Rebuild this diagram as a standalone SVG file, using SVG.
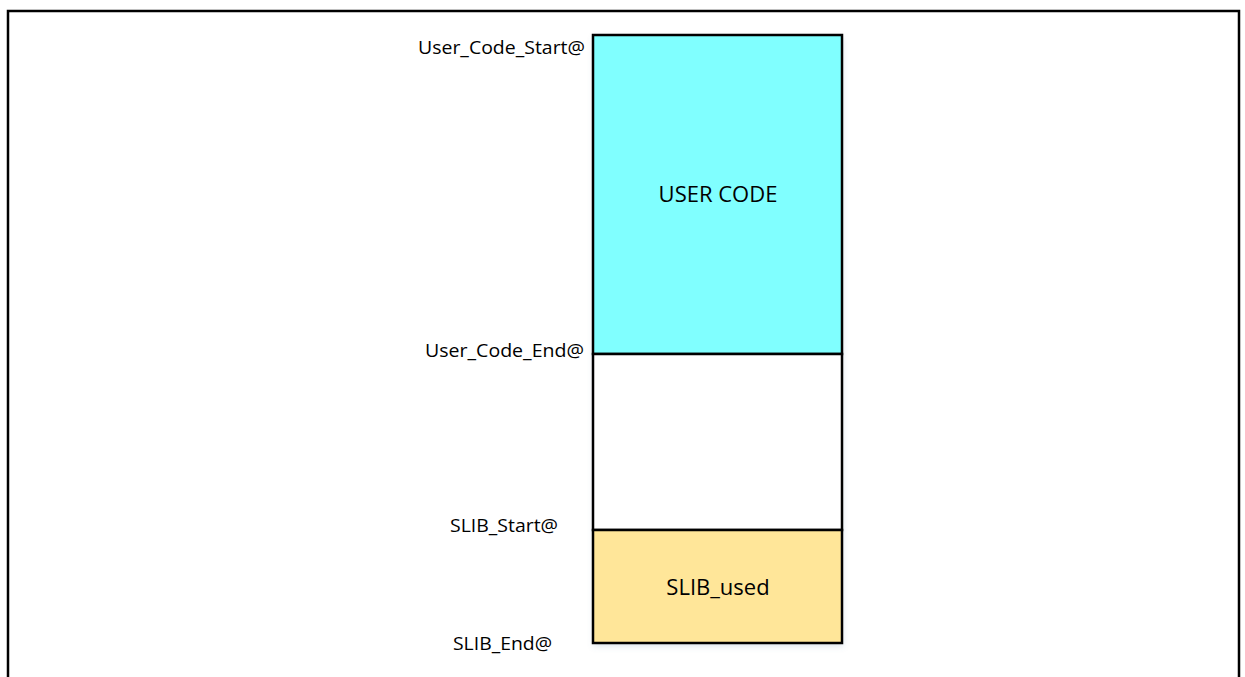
<svg xmlns="http://www.w3.org/2000/svg" width="1245" height="677" viewBox="0 0 1245 677">
<style>
.lbl{font-family:"Open Sans","Liberation Sans",sans-serif;font-size:18px;fill:#000;text-anchor:end}
.big{font-family:"Open Sans","Liberation Sans",sans-serif;font-size:22px;fill:#000;text-anchor:middle}
.blk{stroke:#000;stroke-width:2.5}
</style>
<defs>
<filter id="sh" x="-10%" y="-10%" width="120%" height="120%">
<feDropShadow dx="1" dy="3" stdDeviation="3" flood-color="#6a8fb0" flood-opacity="0.25"/>
</filter>
</defs>
<rect width="1245" height="677" fill="#fff"/>
<path d="M8,677 V11 H1239 V677" fill="none" stroke="#000" stroke-width="2.5"/>
<g id="memory">
<rect x="593" y="35" width="249" height="608" fill="#fff" filter="url(#sh)"/>
<g id="user-code">
<rect class="blk" x="593" y="35" width="249" height="319" fill="#80FFFF"/>
<text class="big" x="718" y="202">USER CODE</text>
</g>
<g id="free">
<rect class="blk" x="593" y="354" width="249" height="176" fill="#fff"/>
</g>
<g id="slib-used">
<rect class="blk" x="593" y="530" width="249" height="113" fill="#FFE699"/>
<text class="big" x="718" y="595">SLIB_used</text>
</g>
</g>
<g id="labels">
<text class="lbl" x="585" y="54" textLength="167" lengthAdjust="spacingAndGlyphs">User_Code_Start@</text>
<text class="lbl" x="584" y="357" textLength="159" lengthAdjust="spacingAndGlyphs">User_Code_End@</text>
<text class="lbl" x="558" y="532" textLength="108" lengthAdjust="spacingAndGlyphs">SLIB_Start@</text>
<text class="lbl" x="552" y="650" textLength="99" lengthAdjust="spacingAndGlyphs">SLIB_End@</text>
</g>
<g id="connectors"></g>
</svg>
